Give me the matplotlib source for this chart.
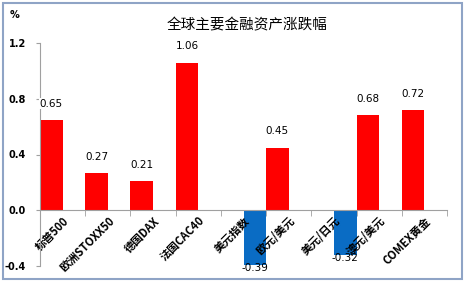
import matplotlib
matplotlib.use("Agg")
import matplotlib.pyplot as plt
from matplotlib.patches import Rectangle

plt.rcParams["font.family"] = ["Noto Sans CJK SC", "DejaVu Sans"]

categories = ["标普500", "欧洲STOXX50", "德国DAX", "法国CAC40", "美元指数",
              "欧元/美元", "美元/日元", "澳元/美元", "COMEX黄金"]
values = [0.65, 0.27, 0.21, 1.06, -0.39, 0.45, -0.32, 0.68, 0.72]
yticks = [-0.4, 0.0, 0.4, 0.8, 1.2]

fig = plt.figure(figsize=(4.66, 2.83), dpi=100)
ax = fig.add_axes([40 / 466, 17 / 283, 407 / 466, 223 / 283])

# spine position first, it resets the tick objects
for s in ["top", "right"]:
    ax.spines[s].set_visible(False)
ax.spines["bottom"].set_position(("data", 0))
ax.spines["left"].set_color("#A0A0A0")
ax.spines["bottom"].set_color("#A0A0A0")

# Excel style: positive series in left half of the slot, negative in right half
for i, v in enumerate(values):
    if v >= 0:
        x0, color = i, "#FF0000"
    else:
        x0, color = i + 0.5, "#0A6CC4"
    ax.bar(x0, v, width=0.5, align="edge", color=color, zorder=1)
    if v >= 0:
        ax.annotate(f"{v:.2f}", (x0 + 0.25, v), xytext=(0, 8),
                    textcoords="offset points", ha="center", va="bottom",
                    fontsize=7.5, family="DejaVu Sans", zorder=3,
                    bbox=dict(facecolor="white", edgecolor="none", pad=0.5))
    else:
        ax.annotate(f"{v:.2f}", (x0 + 0.25, v), xytext=(0, 1),
                    textcoords="offset points", ha="center", va="top",
                    fontsize=7.5, family="DejaVu Sans", zorder=3)

ax.set_xlim(0, len(categories))
ax.set_ylim(-0.4, 1.2)
ax.set_yticks(yticks)
ax.set_yticklabels([f"{t:.1f}" for t in yticks], fontsize=7,
                   family="DejaVu Sans", fontweight="bold")
ax.tick_params(axis="y", length=3, pad=7, color="#A0A0A0")

ax.set_xticks([i + 0.5 for i in range(len(categories))])
ax.set_xticklabels(categories, rotation=45, ha="right", va="top",
                   rotation_mode="anchor", fontsize=8, fontweight="bold")
ax.set_xticks(range(len(categories) + 1), minor=True)
ax.tick_params(axis="x", which="major", length=0, pad=3)
ax.tick_params(axis="x", which="minor", length=4, color="#A0A0A0")

fig.text(247 / 466, 1 - 25 / 283, "全球主要金融资产涨跌幅", ha="center",
         va="center", fontsize=10.5)
fig.text(14 / 466, 1 - 15 / 283, "%", ha="center", va="center",
         fontsize=7, fontweight="bold", family="DejaVu Sans")

fig.patches.append(Rectangle((3 / 466, 4 / 283), 459 / 466, 276 / 283,
                             transform=fig.transFigure, fill=False,
                             edgecolor="#8FA4C6", linewidth=1.5))

fig.savefig("out.png", dpi=100)
